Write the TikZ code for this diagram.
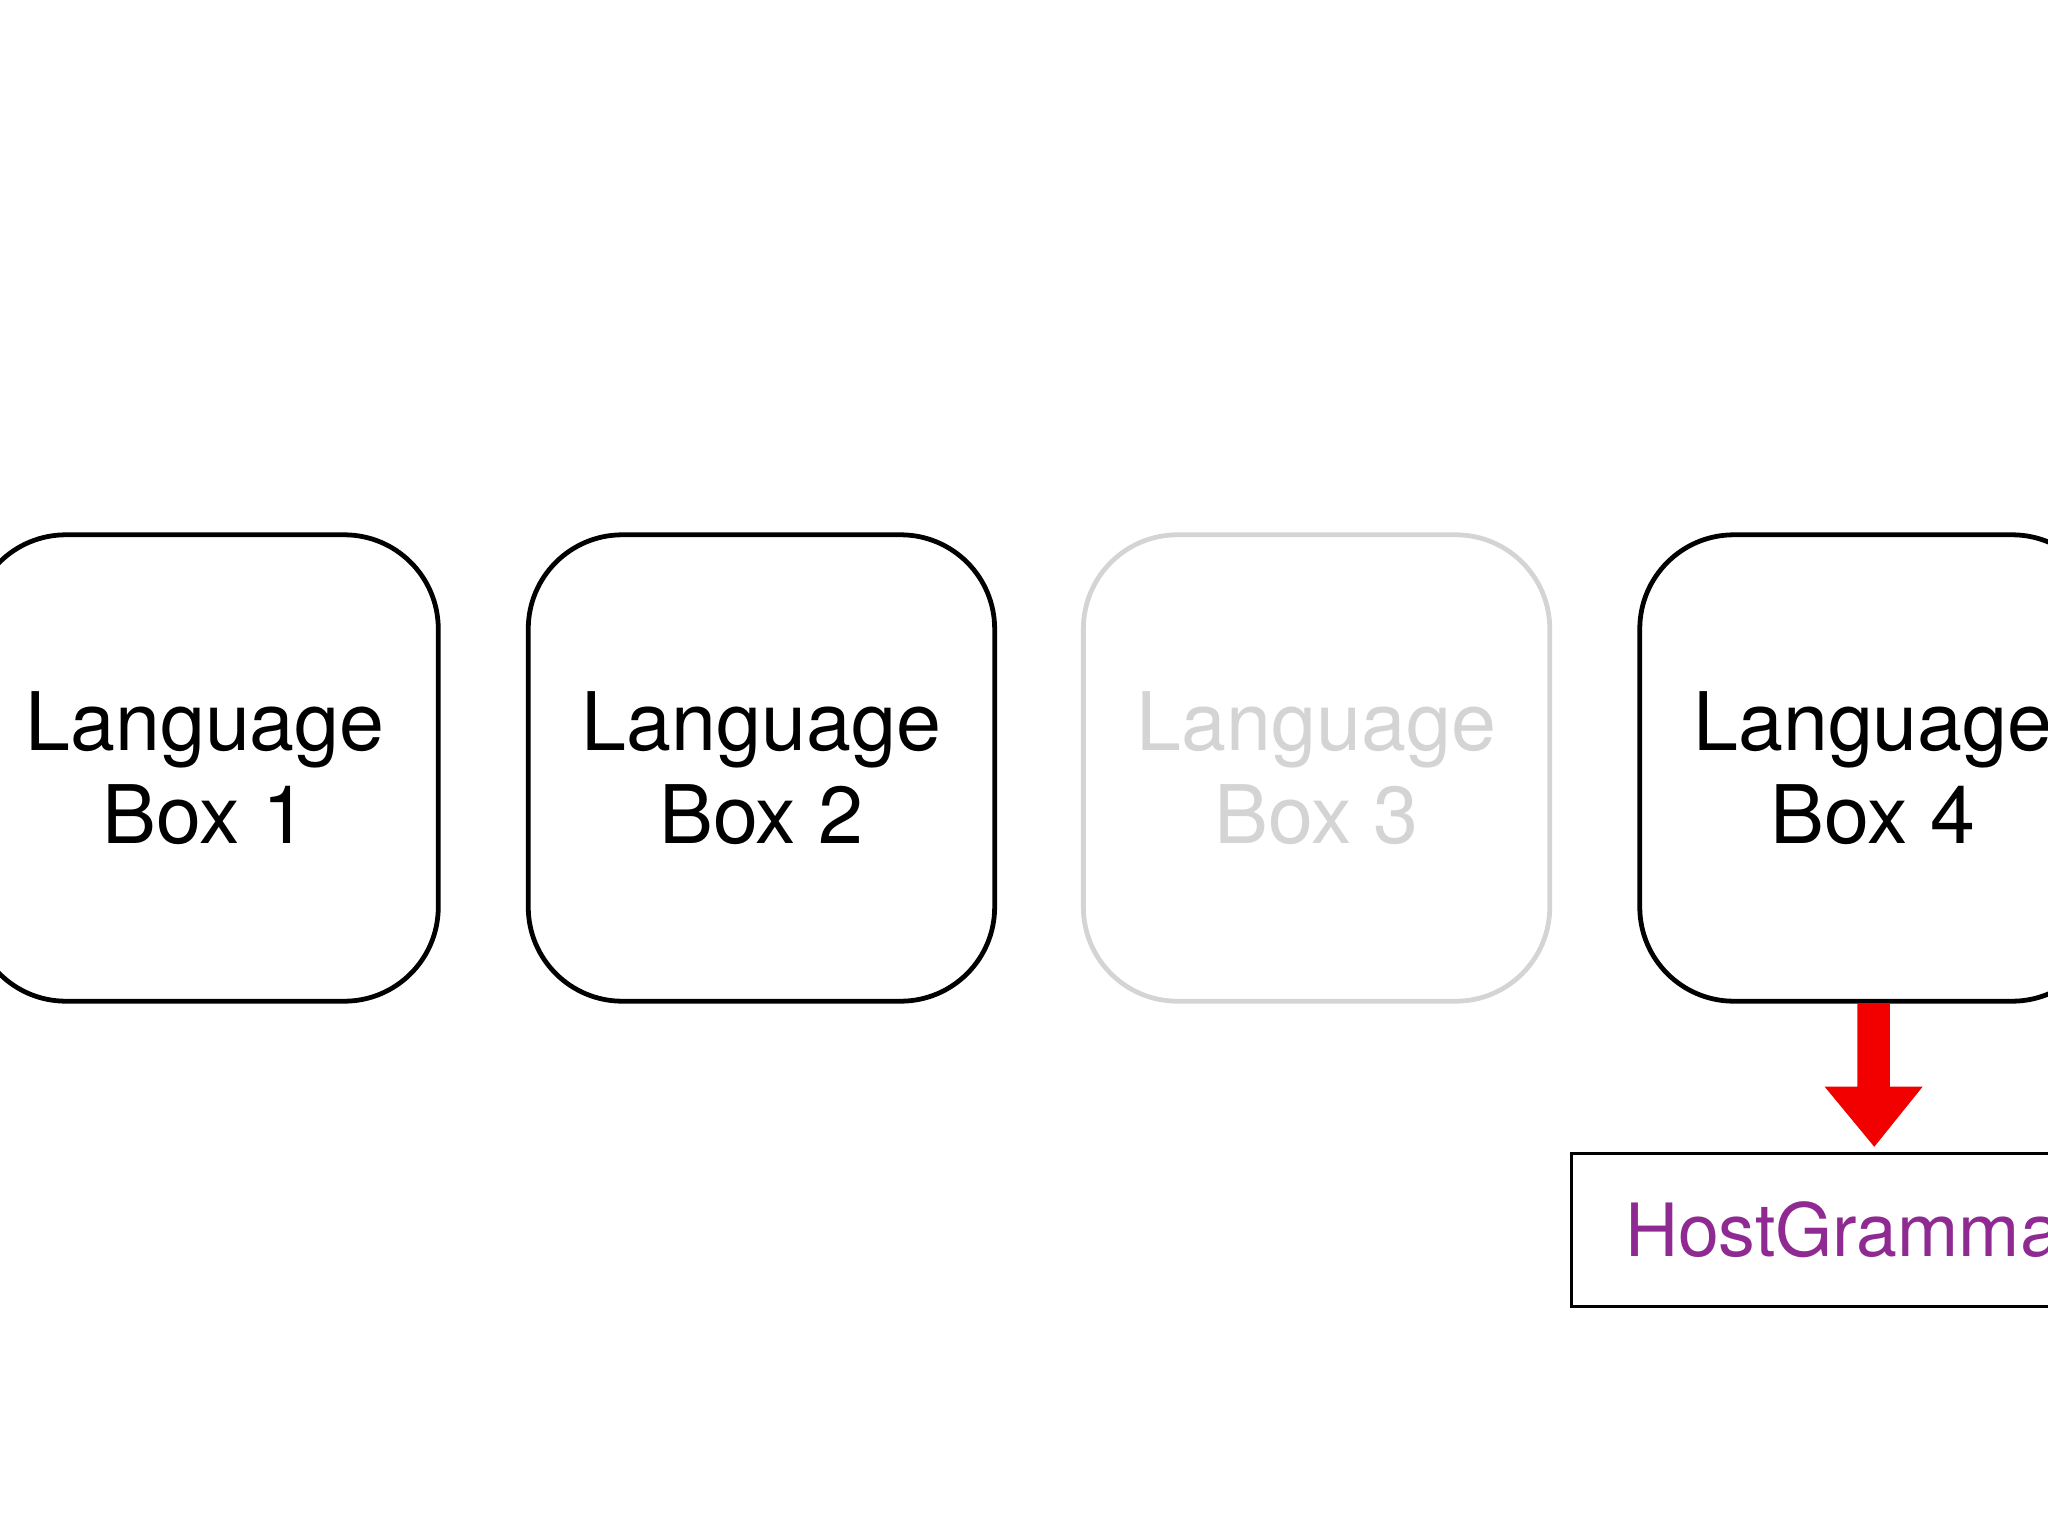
\documentclass[tikz,border=0pt]{standalone}
\usepackage{fontspec}
\setmainfont{TeX Gyre Heros}
\definecolor{hgpurple}{HTML}{8E2A91}
\begin{document}
\begin{tikzpicture}[x=0.025cm,y=-0.025cm,
  lbox/.style={draw,line width=2.6pt,rounded corners=1.8cm,minimum width=8.925cm,minimum height=8.925cm,align=center,font=\fontsize{44}{51}\selectfont,inner sep=0pt},
  faded/.style={draw=black!17,text=black!17}]
\useasboundingbox (0,0) rectangle (1568,1176);
\clip (0,0) rectangle (1568,1176);
\node[lbox] (b1) at (157,588) {Language\\Box 1};
\node[lbox] (b2) at (583,588) {Language\\Box 2};
\node[lbox,faded] (b3) at (1008,588) {Language\\Box 3};
\node[lbox] (b4) at (1434,588) {Language\\Box 4};
\node[draw,line width=1.6pt,anchor=north west,minimum height=2.925cm,inner sep=0pt,font=\fontsize{40}{44}\selectfont,text=hgpurple] (hg) at (1202,882) {\hspace{1.025cm}HostGrammar\hspace{1.025cm}};
\fill[red!95!black] (1422,768) -- (1447,768) -- (1447,832) -- (1472,832) -- (1435,878) -- (1397,832) -- (1422,832) -- cycle;
\end{tikzpicture}
\end{document}
